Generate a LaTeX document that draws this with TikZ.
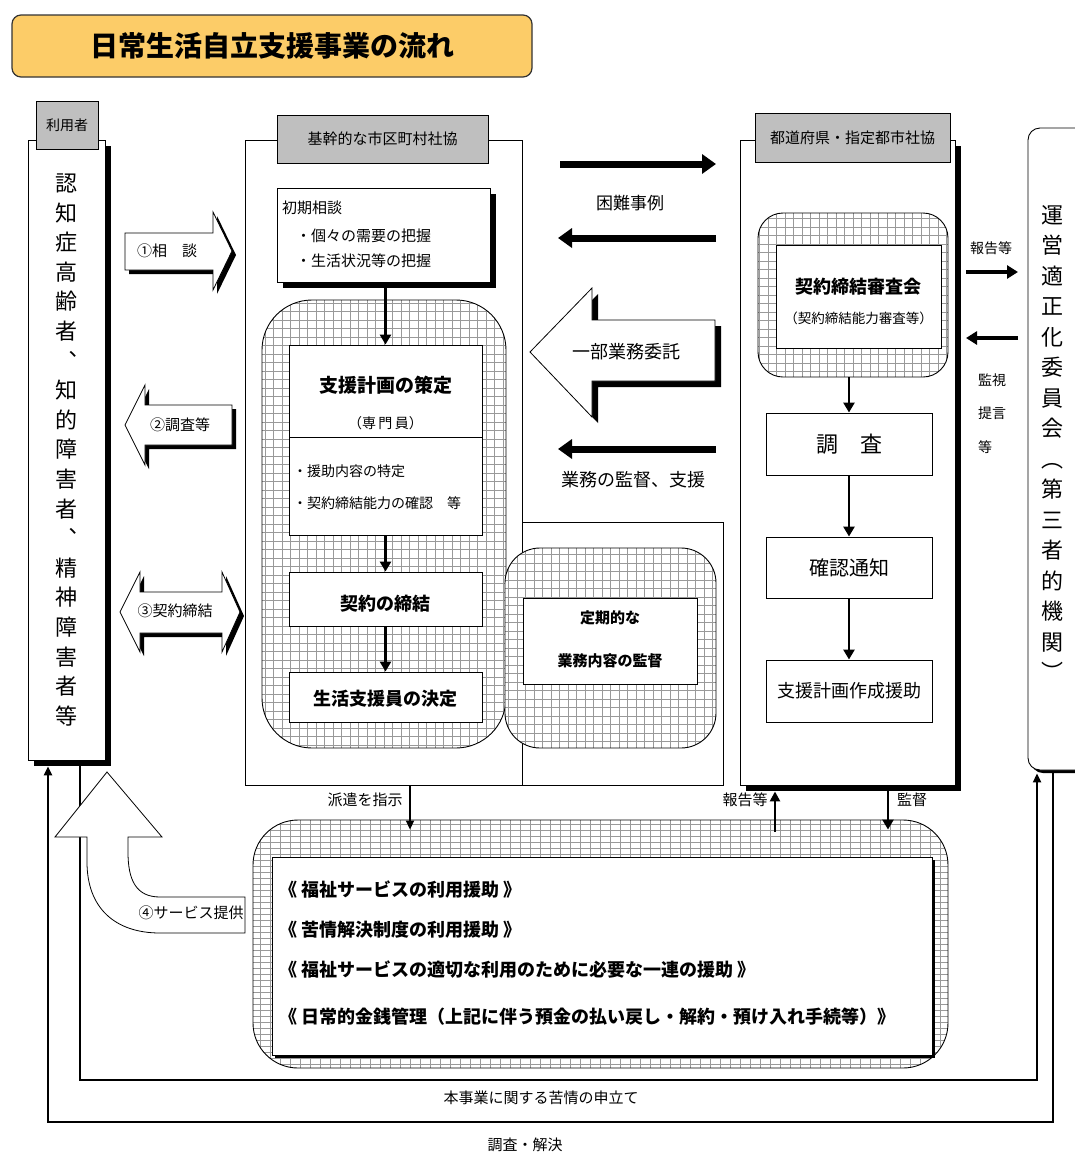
\documentclass[tikz,border=0pt]{standalone}
\usepackage{fontspec}
\setmainfont{Noto Sans CJK JP}
\usetikzlibrary{arrows.meta,shadows,calc}
\newcommand\fsz[1]{\fontsize{#1}{#1}\selectfont}
\definecolor{titlefill}{RGB}{252,204,104}
\begin{document}
\begin{tikzpicture}[x=1pt,y=-1pt,
  box/.style={draw, fill=white, line width=0.9pt, inner sep=0pt},
  tab/.style={draw, fill=black!25, line width=0.9pt, inner sep=0pt},
  shad/.style={drop shadow={shadow xshift=6pt, shadow yshift=-6pt, fill=black, opacity=1}},
  shadsm/.style={drop shadow={shadow xshift=3pt, shadow yshift=-3pt, fill=black, opacity=1}},
  hatch/.style={draw, line width=0.9pt, fill=white, inner sep=0pt,
    path picture={\draw[black!40, line width=0.5pt, xstep=8.5pt, ystep=8.5pt]
      (path picture bounding box.south west) grid (path picture bounding box.north east);}},
  hatchw/.style={draw, line width=0.9pt, fill=white, inner sep=0pt,
    path picture={\draw[black!40, line width=0.5pt, xstep=10pt, ystep=6pt]
      (path picture bounding box.south west) grid (path picture bounding box.north east);}},
  txt/.style={inner sep=0pt, font=\fsz{15}},
  btxt/.style={inner sep=0pt, font=\fsz{18}\bfseries},
  bigarr/.style={line width=7pt, -{Triangle[length=14pt, width=19pt]}},
  midarr/.style={line width=2.6pt, -{Triangle[length=10pt, width=11pt]}},
  thinarr/.style={line width=1.8pt, -{Triangle[length=9pt, width=8pt]}},
  sidearr/.style={line width=3.5pt, -{Triangle[length=11pt, width=13pt]}},
  hollow/.style={draw, fill=white, line width=0.8pt},
]
\useasboundingbox (0,0) rectangle (1075,1157);
\fill[white] (0,0) rectangle (1075,1157);

% title
\node[draw=black!80, line width=1.2pt, fill=titlefill, rounded corners=9pt,
  minimum width=520pt, minimum height=62pt, inner sep=0pt] (title) at (272,46)
  {\fsz{28}\bfseries 日常生活自立支援事業の流れ};

% user
\node[box, shad, minimum width=77pt, minimum height=620pt] (user) at (66.5,450) {};
\node[tab, minimum width=62pt, minimum height=48pt] (usertab) at (67,125) {\fsz{14}利用者};
\node[inner sep=0pt, align=center, font=\fontsize{22}{29.6}\selectfont] (usertxt) at (66,450)
  {認\\知\\症\\高\\齢\\者\\︑\\知\\的\\障\\害\\者\\︑\\精\\神\\障\\害\\者\\等};

% arrows 1-3
\def\arrA{(125,233) -- (213,233) -- (213,212) -- (232,251) -- (213,290) -- (213,270) -- (125,270) -- cycle}
\def\arrB{(232,405) -- (145,405) -- (145,385) -- (125,425) -- (145,465) -- (145,445) -- (232,445) -- cycle}
\def\arrC{(140,592) -- (222,592) -- (222,572) -- (240,612) -- (222,652) -- (222,633) -- (140,633) -- (140,652) -- (120,612) -- (140,572) -- cycle}
\begin{scope}[shift={(4,4)}]
  \fill \arrA; \fill \arrB; \fill \arrC;
\end{scope}
\draw[hollow] \arrA; \draw[hollow] \arrB; \draw[hollow] \arrC;
\node[txt] (lab1) at (167,251) {①相　談};
\node[txt] (lab2) at (180,425) {②調査等};
\node[txt] (lab3) at (175,611) {③契約締結};

% middle organisation
\node[box, minimum width=277pt, minimum height=645pt] (mid) at (383.5,462.5) {};
\node[box, minimum width=201pt, minimum height=263pt] (mid2) at (622.5,653.5) {};
\node[tab, minimum width=211pt, minimum height=48pt] (midtab) at (382.5,139) {\fsz{15}基幹的な市区町村社協};

\node[box, shad, minimum width=213pt, minimum height=94pt] (init) at (383.5,235) {};
\node[txt, anchor=west] (initT) at (282,208) {初期相談};
\node[txt, anchor=west] (initA) at (296,236) {・個々の需要の把握};
\node[txt, anchor=west] (initB) at (296,261) {・生活状況等の把握};

\node[hatch, rounded corners=50pt, minimum width=244pt, minimum height=448pt] (hA) at (384,524) {};
\node[box, minimum width=193pt, minimum height=92pt] (plan) at (385.5,391) {};
\node[btxt, font=\fsz{19}\bfseries] (planT) at (385.5,385) {支援計画の策定};
\node[txt, font=\fsz{14}] (planS) at (385.5,423) {（専\,門\,員）};
\node[box, minimum width=193pt, minimum height=98pt] (detail) at (385.5,486) {};
\node[txt, font=\fsz{14}, anchor=west] (detA) at (293,471) {・援助内容の特定};
\node[txt, font=\fsz{14}, anchor=west] (detB) at (293,503) {・契約締結能力の確認　等};
\node[box, minimum width=193pt, minimum height=54pt] (contract) at (385.5,599) {};
\node[btxt] (contractT) at (385.5,604) {契約の締結};
\node[box, minimum width=193pt, minimum height=50pt] (decide) at (385.5,697) {};
\node[btxt] (decideT) at (385.5,699) {生活支援員の決定};

\draw[midarr] (init.south -| plan.north) -- (plan.north);
\draw[midarr] (detail.south) -- (contract.north);
\draw[midarr] (contract.south) -- (decide.north);

\node[hatch, rounded corners=35pt, minimum width=211pt, minimum height=200pt] (hB) at (610.5,648) {};
\node[box, minimum width=174pt, minimum height=86pt] (mon) at (610,641) {};
\node[txt, font=\fsz{15}\bfseries] (monA) at (610,618) {定期的な};
\node[txt, font=\fsz{15}\bfseries] (monB) at (610,661) {業務内容の監督};

% arrows between middle and right
\coordinate (k1a) at (560,164); \coordinate (k1b) at (716,164);
\coordinate (k2a) at (716,238); \coordinate (k2b) at (558,238);
\coordinate (k3a) at (716,449); \coordinate (k3b) at (558,449);
\draw[bigarr] (k1a) -- (k1b);
\draw[bigarr] (k2a) -- (k2b);
\draw[bigarr] (k3a) -- (k3b);
\node[txt, font=\fsz{17}] (konnan) at (630,203) {困難事例};
\node[txt, font=\fsz{18}] (kantoku) at (633,480) {業務の監督、支援};
\def\arrBig{(715,320) -- (592,320) -- (592,288) -- (530,352) -- (592,417) -- (592,381) -- (715,381) -- cycle}
\begin{scope}[shift={(6,6)}] \fill \arrBig; \end{scope}
\draw[hollow] \arrBig;
\node[txt, font=\fsz{18}] (itaku) at (626,352) {一部業務委託};

% right organisation
\node[box, shad, minimum width=215pt, minimum height=645pt] (rt) at (847.5,462.5) {};
\node[tab, minimum width=195pt, minimum height=49pt] (rttab) at (852.5,137.5) {\fsz{15}都道府県・指定都市社協};
\node[hatch, rounded corners=25pt, minimum width=190pt, minimum height=164pt] (hC) at (853,295) {};
\node[box, minimum width=165pt, minimum height=103pt] (shinsa) at (858.5,296.5) {};
\node[btxt] (shinsaT) at (858.5,287) {契約締結審査会};
\node[txt, font=\fsz{13.5}] (shinsaS) at (858.5,318) {（契約締結能力審査等）};
\node[box, minimum width=166pt, minimum height=62pt] (survey) at (849,444) {\fsz{22}調　査};
\node[box, minimum width=166pt, minimum height=61pt] (notice) at (849,567.5) {\fsz{20}確認通知};
\node[box, minimum width=166pt, minimum height=62pt] (assist) at (849,691) {\fsz{18}支援計画作成援助};
\draw[midarr] (hC.south -| survey.north) -- (survey.north);
\draw[midarr] (survey.south) -- (notice.north);
\draw[midarr] (notice.south) -- (assist.north);

% committee
\node[draw, fill=white, line width=0.9pt, rounded corners=12pt, shadsm,
  minimum width=60pt, minimum height=642pt, inner sep=0pt] (comm) at (1058,449) {};
\node[inner sep=0pt, align=center, font=\fontsize{22}{30.5}\selectfont] (commT) at (1052,443)
  {運\\営\\適\\正\\化\\委\\員\\会\\︵\\第\\三\\者\\的\\機\\関\\︶};
\coordinate (r1a) at (966,272); \coordinate (r1b) at (1018,272);
\coordinate (r2a) at (1018,338); \coordinate (r2b) at (966,338);
\draw[sidearr] (r1a) -- (r1b);
\draw[sidearr] (r2a) -- (r2b);
\node[txt, font=\fsz{14}] (hokoku) at (991,248) {報告等};
\node[txt, font=\fsz{14}] (kanshi) at (992,380) {監視};
\node[txt, font=\fsz{14}] (teigen) at (992,413) {提言};
\node[txt, font=\fsz{14}] (toh) at (985,447) {等};

% complaint lines
\draw[line width=2.2pt, -{Triangle[length=9pt, width=8pt]}]
  (80,0 |- user.south) -- (80,1080) -- (1037,1080) -- ($(1037,0 |- comm.south)+(0,3)$);
\draw[line width=2.2pt, -{Triangle[length=9pt, width=8pt]}]
  ($(1053,0 |- comm.south)+(0,3)$) -- (1053,1122) -- (48,1122) -- ($(48,0 |- user.south)+(0,6)$);

% bottom services
\node[hatchw, rounded corners=45pt, minimum width=695pt, minimum height=248pt] (hD) at (600.5,944) {};
\node[box, shadsm, minimum width=660pt, minimum height=198pt] (svc) at (602,956) {};
\node[btxt, anchor=west] (svc1) at (279,890) {《 福祉サービスの利用援助 》};
\node[btxt, anchor=west] (svc2) at (279,930) {《 苦情解決制度の利用援助 》};
\node[btxt, anchor=west] (svc3) at (279,970) {《 福祉サービスの適切な利用のために必要な一連の援助 》};
\node[btxt, anchor=west] (svc4) at (279,1017) {《 日常的金銭管理（上記に伴う預金の払い戻し・解約・預け入れ手続等）》};

\draw[thinarr] (410,0 |- mid.south) -- ($(410,0 |- hD.north)+(0,10)$);
\node[txt] (haken) at (365,800) {派遣を指示};
\draw[line width=2.6pt, -{Triangle[length=10pt, width=10pt]}] ($(775,0 |- hD.north)+(0,12)$) -- ($(775,0 |- rt.south)+(0,6)$);
\node[txt] (hokoku2) at (745,800) {報告等};
\draw[midarr] ($(888,0 |- rt.south)+(0,6)$) -- ($(888,0 |- hD.north)+(0,10)$);
\node[txt] (kantoku2) at (912,800) {監督};

% service provision arrow
\def\arrSvc{(245,897) -- (160,897) .. controls (136,897) and (128,880) .. (128,852) -- (128,837) -- (162,837) -- (107,772) -- (55,837) -- (87,837) -- (87,862) .. controls (87,908) and (115,933) .. (160,933) -- (245,933) -- cycle}
\draw[hollow] \arrSvc;
\node[txt] (svcprov) at (191,913) {④サービス提供};

\node[txt] (kujo) at (541,1098) {本事業に関する苦情の申立て};
\node[txt] (kaiketsu) at (525,1145) {調査・解決};
\end{tikzpicture}
\end{document}
